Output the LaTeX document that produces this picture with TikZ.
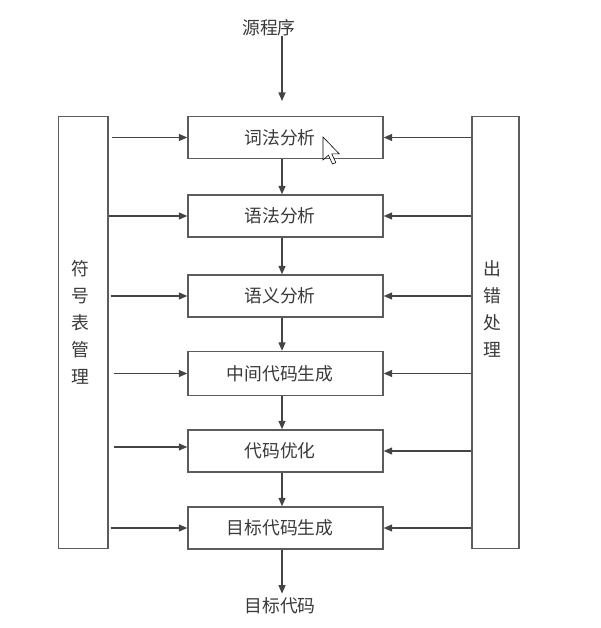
\documentclass[tikz,border=0pt]{standalone}
\usepackage{fontspec}
\setmainfont{Noto Sans CJK SC}
\usetikzlibrary{arrows.meta}
\definecolor{linec}{HTML}{444444}
\definecolor{boxc}{HTML}{5C5C5C}
\definecolor{txtc}{HTML}{3A3A3A}
\tikzset{
  stage/.style={draw=boxc, line width=1.4pt, minimum width=195pt, minimum height=42pt, inner sep=0pt},
  side/.style={draw=boxc, line width=1.4pt, inner sep=0pt},
  lbl/.style={text=txtc, font=\fontsize{17.8}{27}\selectfont, inner sep=0pt},
  flow/.style={draw=linec, line width=1.3pt, -{Triangle[length=8.5pt,width=7pt]}},
}
\begin{document}
\begin{tikzpicture}[x=1pt,y=-1pt]
\useasboundingbox (0,0) rectangle (601,628);
\fill[white] (0,0) rectangle (601,628);
\coordinate (col) at (282,0);
% side boxes
\node[side, minimum width=49.5pt, minimum height=432pt] (sym) at (83.25,332.5) {};
\node[side, minimum width=47pt, minimum height=432pt] (err) at (495.5,332.5) {};
\node[lbl, align=center] (symt) at (80,322) {符\\号\\表\\管\\理};
\node[lbl, align=center] (errt) at (492,308.5) {出\\错\\处\\理};
% stages
\node[stage, label={[lbl,xshift=-5.5pt]center:词法分析}] (s1) at (285.5,137.5) {};
\node[stage, label={[lbl,xshift=-5.5pt]center:语法分析}] (s2) at (285.5,216) {};
\node[stage, label={[lbl,xshift=-5.5pt]center:语义分析}] (s3) at (285.5,296) {};
\node[stage, minimum height=44pt, label={[lbl,xshift=-5.5pt]center:中间代码生成}] (s4) at (285.5,373.5) {};
\node[stage, label={[lbl,xshift=-5.5pt]center:代码优化}] (s5) at (285.5,451) {};
\node[stage, label={[lbl,xshift=-5.5pt]center:目标代码生成}] (s6) at (285.5,528) {};
% input / output
\node[lbl] (src) at (269,27.5) {源程序};
\node[lbl] (out) at (280,606) {目标代码};
\coordinate (tiptop) at (282,101);
\draw[flow] (src.south -| col) -- (tiptop);
\draw[flow] (s1.south -| col) -- (s2.north -| col);
\draw[flow] (s2.south -| col) -- (s3.north -| col);
\draw[flow] (s3.south -| col) -- (s4.north -| col);
\draw[flow] (s4.south -| col) -- (s5.north -| col);
\draw[flow] (s5.south -| col) -- (s6.north -| col);
\draw[flow, shorten >=4pt] (s6.south -| col) -- (out.north -| col);
% symbol table arrows
\draw[flow, shorten <=3pt] (sym.east |- s1.west) -- (s1.west);
\draw[flow] (sym.east |- s2.west) -- (s2.west);
\draw[flow, shorten <=2pt] (sym.east |- s3.west) -- (s3.west);
\draw[flow, shorten <=5pt] (sym.east |- s4.west) -- (s4.west);
\draw[flow, shorten <=5pt] ([yshift=4pt]sym.east |- s5.west) -- ([yshift=4pt]s5.west);
\draw[flow, shorten <=2pt] (sym.east |- s6.west) -- (s6.west);
% error arrows
\draw[flow] (err.west |- s1.east) -- (s1.east);
\draw[flow] (err.west |- s2.east) -- (s2.east);
\draw[flow] (err.west |- s3.east) -- (s3.east);
\draw[flow] (err.west |- s4.east) -- (s4.east);
\draw[flow] (err.west |- s5.east) -- (s5.east);
\draw[flow] (err.west |- s6.east) -- (s6.east);
% mouse pointer
\begin{scope}[shift={(323,137)}, scale=1.35]
\draw[black, fill=white, line width=0.6pt, line join=miter]
  (0,0) -- (0,17) -- (4,13.5) -- (7,20) -- (9.5,19) -- (6.5,12.5) -- (12,12.5) -- cycle;
\end{scope}
\end{tikzpicture}
\end{document}
